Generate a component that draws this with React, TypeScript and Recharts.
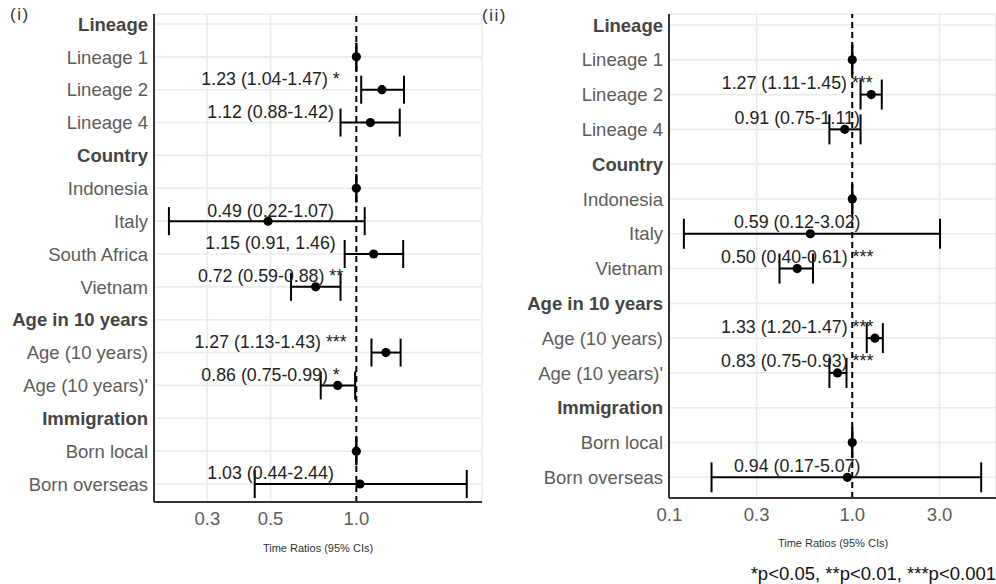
import React from "react";
import { ScatterChart, Scatter, XAxis, YAxis, CartesianGrid, ErrorBar, ReferenceLine } from "recharts";

// panel (i)
const rowsLeft = [
  "Lineage", "Lineage 1", "Lineage 2", "Lineage 4",
  "Country", "Indonesia", "Italy", "South Africa", "Vietnam",
  "Age in 10 years", "Age (10 years)", "Age (10 years)'",
  "Immigration", "Born local", "Born overseas",
];
const estLeft = [null, 1, 1.23, 1.12, null, 1, 0.49, 1.15, 0.72, null, 1.27, 0.86, null, 1, 1.03];
const lowLeft = [null, 1, 1.04, 0.88, null, 1, 0.22, 0.91, 0.59, null, 1.13, 0.75, null, 1, 0.44];
const highLeft = [null, 1, 1.47, 1.42, null, 1, 1.07, 1.46, 0.88, null, 1.43, 0.99, null, 1, 2.44];
const textLeft = [
  "", "", "1.23 (1.04-1.47) *", "1.12 (0.88-1.42)", "", "", "0.49 (0.22-1.07)",
  "1.15 (0.91, 1.46)", "0.72 (0.59-0.88) **", "", "1.27 (1.13-1.43) ***",
  "0.86 (0.75-0.99) *", "", "", "1.03 (0.44-2.44)",
];
const ticksLeft = [0.3, 0.5, 1.0];

// panel (ii)
const rowsRight = [
  "Lineage", "Lineage 1", "Lineage 2", "Lineage 4",
  "Country", "Indonesia", "Italy", "Vietnam",
  "Age in 10 years", "Age (10 years)", "Age (10 years)'",
  "Immigration", "Born local", "Born overseas",
];
const estRight = [null, 1, 1.27, 0.91, null, 1, 0.59, 0.5, null, 1.33, 0.83, null, 1, 0.94];
const lowRight = [null, 1, 1.11, 0.75, null, 1, 0.12, 0.4, null, 1.2, 0.75, null, 1, 0.17];
const highRight = [null, 1, 1.45, 1.11, null, 1, 3.02, 0.61, null, 1.47, 0.93, null, 1, 5.07];
const textRight = [
  "", "", "1.27 (1.11-1.45) ***", "0.91 (0.75-1.11)", "", "", "0.59 (0.12-3.02)",
  "0.50 (0.40-0.61) ***", "", "1.33 (1.20-1.47) ***", "0.83 (0.75-0.93) ***",
  "", "", "0.94 (0.17-5.07)",
];
const ticksRight = [0.1, 0.3, 1.0, 3.0];

const headers = ["Lineage", "Country", "Age in 10 years", "Immigration"];
const FONT = "'Liberation Sans', Arial, sans-serif";

function buildPoints(est: (number | null)[], low: (number | null)[], high: (number | null)[]) {
  const out: any[] = [];
  est.forEach((e, i) => {
    if (e == null) return;
    out.push({ row: i, est: e, err: [e - (low[i] as number), (high[i] as number) - e] });
  });
  return out;
}

// annotation text is centred on x = 0.5, as in the original plot
function buildLabels(text: string[]) {
  return text
    .map((t, i) => ({ row: i, est: 0.5, text: t }))
    .filter((d) => d.text !== "");
}

const RowTick = (props: any) => {
  const { x, y, payload, names } = props;
  const name = names[payload.value];
  const bold = headers.includes(name);
  return (
    <text
      x={x + 2}
      y={y}
      dy="0.36em"
      textAnchor="end"
      fontFamily={FONT}
      fontSize={18.5}
      fontWeight={bold ? 700 : 400}
      fill={bold ? "#444" : "#5c5c5c"}
    >
      {name}
    </text>
  );
};

const Dot = (props: any) => <circle cx={props.cx} cy={props.cy} r={4.6} fill="#000" />;

const LabelShape = (props: any) => (
  <text
    x={props.cx}
    y={props.cy - props.lift}
    dy="0.36em"
    textAnchor="middle"
    fontFamily={FONT}
    fontSize={17.8}
    fill="#222"
  >
    {props.payload ? props.payload.text : props.text}
  </text>
);

interface PanelProps {
  width: number;
  rows: string[];
  est: (number | null)[];
  low: (number | null)[];
  high: (number | null)[];
  text: string[];
  ticks: number[];
  domainX: [number, number];
  domainY: [number, number];
  yWidth: number;
  marginRight: number;
  bottom: number;
  cap: number;
  lift: number;
}

function Panel(p: PanelProps) {
  const points = buildPoints(p.est, p.low, p.high);
  const labels = buildLabels(p.text);
  const rowTicks = p.rows.map((_, i) => i);
  return (
    <ScatterChart
      width={p.width}
      height={584}
      margin={{ top: 14, right: p.marginRight, bottom: 584 - p.bottom - 40, left: 0 }}
    >
      <CartesianGrid stroke="#ebebeb" strokeWidth={1.6} />
      <XAxis
        type="number"
        dataKey="est"
        scale="log"
        domain={p.domainX}
        allowDataOverflow
        ticks={p.ticks}
        tickFormatter={(v: number) => v.toFixed(1)}
        tickLine={false}
        axisLine={{ stroke: "#333", strokeWidth: 2 }}
        tick={{ fill: "#5c5c5c", fontSize: 18.5, fontFamily: FONT }}
        tickMargin={4}
        height={40}
      />
      <YAxis
        type="number"
        dataKey="row"
        reversed
        domain={p.domainY}
        allowDataOverflow
        ticks={rowTicks}
        interval={0}
        width={p.yWidth}
        tickLine={false}
        axisLine={{ stroke: "#333", strokeWidth: 2 }}
        tick={<RowTick names={p.rows} />}
      />
      <ReferenceLine x={1} stroke="#000" strokeWidth={2} strokeDasharray="6 4" />
      <Scatter data={points} shape={<Dot />} isAnimationActive={false}>
        <ErrorBar dataKey="err" direction="x" width={p.cap} stroke="#000" strokeWidth={2} />
      </Scatter>
      <Scatter data={labels} shape={<LabelShape lift={p.lift} />} isAnimationActive={false} />
    </ScatterChart>
  );
}

const axisTitle: React.CSSProperties = {
  position: "absolute",
  fontFamily: FONT,
  fontSize: 11,
  color: "#333",
  textAlign: "center",
  whiteSpace: "nowrap",
};

export default function App() {
  return (
    <div
      style={{
        position: "absolute",
        left: 0,
        top: 0,
        width: 996,
        height: 584,
        background: "#fff",
        overflow: "hidden",
        fontFamily: FONT,
      }}
    >
      <div style={{ position: "absolute", left: 0, top: 0 }}>
        <Panel
          width={490}
          rows={rowsLeft}
          est={estLeft}
          low={lowLeft}
          high={highLeft}
          text={textLeft}
          ticks={ticksLeft}
          domainX={[0.195, 2.76]}
          domainY={[-0.304, 14.548]}
          yWidth={154}
          marginRight={8}
          bottom={502}
          cap={14}
          lift={11}
        />
      </div>
      <div style={{ position: "absolute", left: 480, top: 0 }}>
        <Panel
          width={516}
          rows={rowsRight}
          est={estRight}
          low={lowRight}
          high={highRight}
          text={textRight}
          ticks={ticksRight}
          domainX={[0.0995, 6.11]}
          domainY={[-0.316, 13.595]}
          yWidth={189}
          marginRight={0}
          bottom={498}
          cap={15}
          lift={12}
        />
      </div>
      <div style={{ position: "absolute", left: 10, top: 5, fontSize: 17, letterSpacing: 1.5, color: "#333" }}>(i)</div>
      <div style={{ position: "absolute", left: 482, top: 6, fontSize: 17, letterSpacing: 1.5, color: "#333" }}>(ii)</div>
      <div style={{ ...axisTitle, left: 218, width: 200, top: 542 }}>Time Ratios (95% CIs)</div>
      <div style={{ ...axisTitle, left: 733, width: 200, top: 537 }}>Time Ratios (95% CIs)</div>
      <div
        style={{
          position: "absolute",
          right: 0,
          top: 563,
          fontSize: 18.5,
          color: "#111",
          whiteSpace: "nowrap",
        }}
      >
        *p&lt;0.05, **p&lt;0.01, ***p&lt;0.001
      </div>
    </div>
  );
}
